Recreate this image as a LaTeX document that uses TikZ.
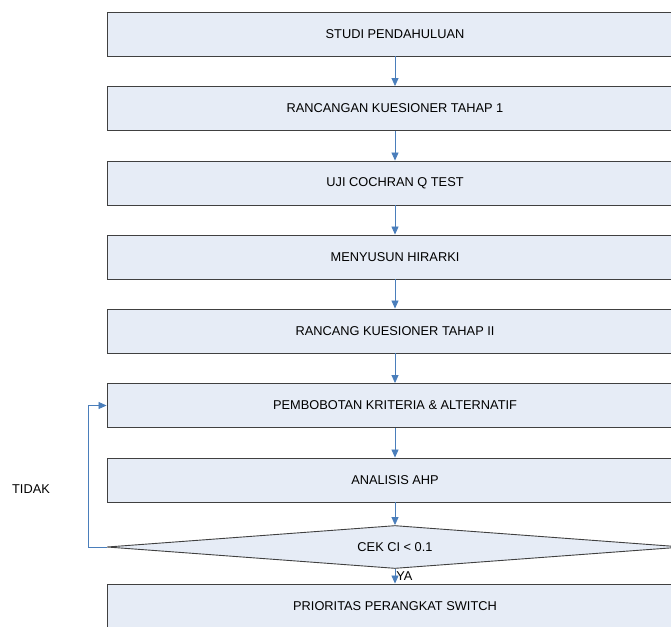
\documentclass[tikz,border=0pt]{standalone}
\usepackage{fontspec}
\setmainfont{Liberation Sans}
\usepackage{xcolor}
\usetikzlibrary{arrows.meta,positioning,shapes.geometric}
\definecolor{boxfill}{RGB}{230,236,246}
\definecolor{flowblue}{RGB}{74,126,187}

\begin{document}
\begin{tikzpicture}[x=1pt,y=-1pt,
  stepbox/.style={draw=black!75,line width=0.9pt,fill=boxfill,minimum width=576pt,
    minimum height=44pt,inner sep=0pt,font=\fontsize{12.8}{14}\selectfont},
  checkbox/.style={stepbox,shape=diamond,shape aspect=13,minimum height=43pt},
  flow/.style={flowblue,line width=0.8pt,-{Triangle[width=7pt,length=8pt]}}]
  \useasboundingbox (0,0) rectangle (671,626);
  \clip (0,0) rectangle (671,626);
  \node[stepbox] (studi) at (395,34) {STUDI PENDAHULUAN};
  \node[stepbox] (rancangan) at (395,108.5) {RANCANGAN KUESIONER TAHAP 1};
  \node[stepbox] (cochran) at (395,183) {UJI COCHRAN Q TEST};
  \node[stepbox] (hirarki) at (395,257) {MENYUSUN HIRARKI};
  \node[stepbox] (tahapdua) at (395,331) {RANCANG KUESIONER TAHAP II};
  \node[stepbox] (pembobotan) at (395,405.5) {PEMBOBOTAN KRITERIA \& ALTERNATIF};
  \node[stepbox] (ahp) at (395,480) {ANALISIS AHP};
  \node[checkbox] (cek) at (395,547) {CEK CI < 0.1};
  \node[stepbox] (prioritas) at (395,606) {PRIORITAS PERANGKAT SWITCH};
  \node[font=\fontsize{12.8}{14}\selectfont] (tidak) at (31,489) {TIDAK};
  \draw[flow] (studi) -- (rancangan);
  \draw[flow] (rancangan) -- (cochran);
  \draw[flow] (cochran) -- (hirarki);
  \draw[flow] (hirarki) -- (tahapdua);
  \draw[flow] (tahapdua) -- (pembobotan);
  \draw[flow] (pembobotan) -- (ahp);
  \draw[flow] (ahp) -- (cek);
  \draw[flow] (cek) -- (prioritas)
    node[midway,right,inner sep=1pt,black,font=\fontsize{12.8}{14}\selectfont] (ya) {YA};
  \draw[flow] (cek.west) -- ++(-18,0) |- (pembobotan.west);
\end{tikzpicture}
\end{document}
